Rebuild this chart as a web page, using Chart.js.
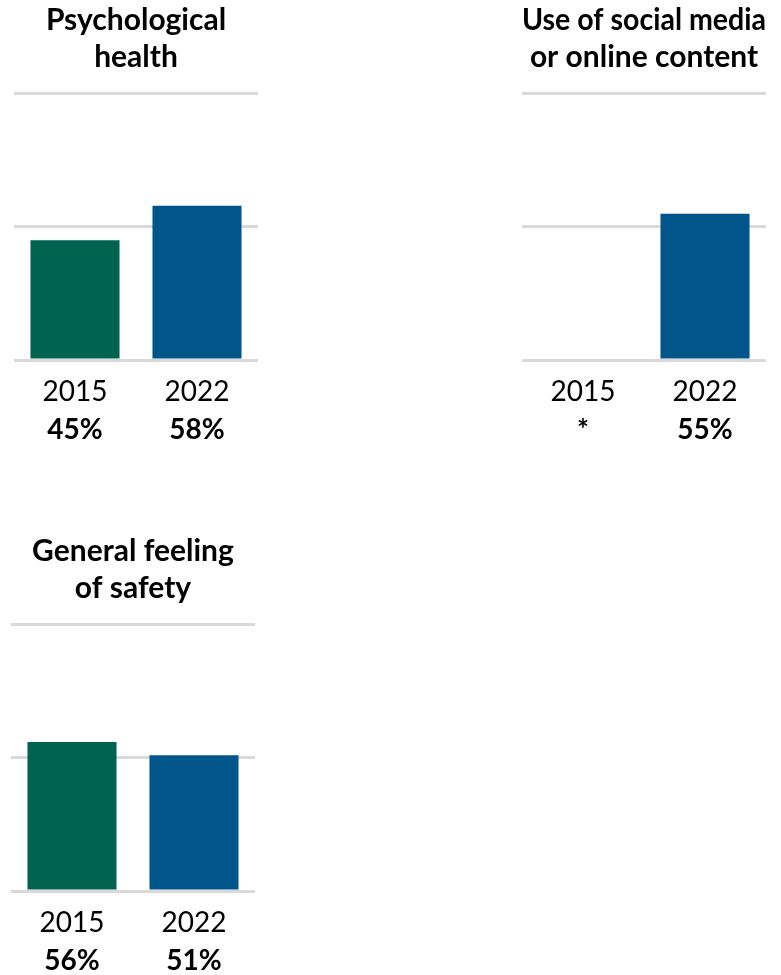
<!DOCTYPE html>
<html>
<head>
<meta charset="utf-8">
<script src="https://cdn.jsdelivr.net/npm/chart.js@4"></script>
<style>
  html, body { margin: 0; padding: 0; background: #fff; overflow: hidden; }
  body { width: 781px; height: 975px; position: relative; }
  canvas { position: absolute; }
</style>
</head>
<body>
<canvas id="psych" width="270" height="460" style="left:0;top:0"></canvas>
<canvas id="social" width="281" height="460" style="left:500px;top:0"></canvas>
<canvas id="safety" width="270" height="460" style="left:0;top:531px"></canvas>
<script>
// Survey years shown on each panel
const years = ['2015', '2022'];

// Share of respondents (%) per topic; null = no data collected that year
const psychologicalHealth = [45, 58];
const socialMediaUse = [null, 55];
const feelingOfSafety = [56, 51];

// Panel headings, one entry per line
const titlePsych = ['Psychological', 'health'];
const titleSocial = ['Use of social media', 'or online content'];
const titleSafety = ['General feeling', 'of safety'];

const yearColours = ['#00634F', '#00558B'];
const FONT = 'Lato, "Open Sans", sans-serif';

function valueLabel(v) {
  return v === null ? '*' : v + '%';
}

// Writes each bar's value in bold under its year label on the x axis
const valueRow = {
  id: 'valueRow',
  afterDraw(chart) {
    const xs = chart.scales.x;
    const ctx = chart.ctx;
    const values = chart.data.datasets[0].data;
    ctx.save();
    ctx.font = 'bold 28px ' + FONT;
    ctx.fillStyle = '#000';
    ctx.textAlign = 'center';
    ctx.textBaseline = 'middle';
    values.forEach((v, i) => {
      ctx.fillText(valueLabel(v), xs.getPixelForValue(i), xs.bottom + 6);
    });
    ctx.restore();
  }
};

function drawPanel(id, title, values, padLeft, padRight) {
  new Chart(document.getElementById(id), {
    type: 'bar',
    data: {
      labels: years,
      datasets: [{
        data: values,
        backgroundColor: yearColours,
        borderWidth: 0,
        categoryPercentage: 0.73,
        barPercentage: 1
      }]
    },
    plugins: [valueRow],
    options: {
      responsive: false,
      animation: false,
      devicePixelRatio: 1,
      layout: { padding: { left: padLeft, right: padRight, top: 0, bottom: 36.4 } },
      plugins: {
        legend: { display: false },
        tooltip: { enabled: false },
        title: {
          display: true,
          text: title,
          color: '#000',
          font: { family: FONT, size: 30, weight: 'bold', lineHeight: 1.233 },
          padding: { top: 2, bottom: 18 }
        }
      },
      scales: {
        y: {
          min: 0,
          max: 100,
          ticks: { display: false, stepSize: 50 },
          border: { display: false },
          grid: { color: '#d9d9d9', lineWidth: 3, drawTicks: false }
        },
        x: {
          type: 'category',
          position: 'bottom',
          offset: true,
          border: { display: false },
          grid: { display: false, drawTicks: false },
          ticks: { color: '#000', padding: 15, font: { family: FONT, size: 28, lineHeight: 1.2 } }
        }
      }
    }
  });
}

drawPanel('psych', titlePsych, psychologicalHealth, 14, 12);
drawPanel('social', titleSocial, socialMediaUse, 22, 15);
drawPanel('safety', titleSafety, feelingOfSafety, 11, 15);
</script>
</body>
</html>
